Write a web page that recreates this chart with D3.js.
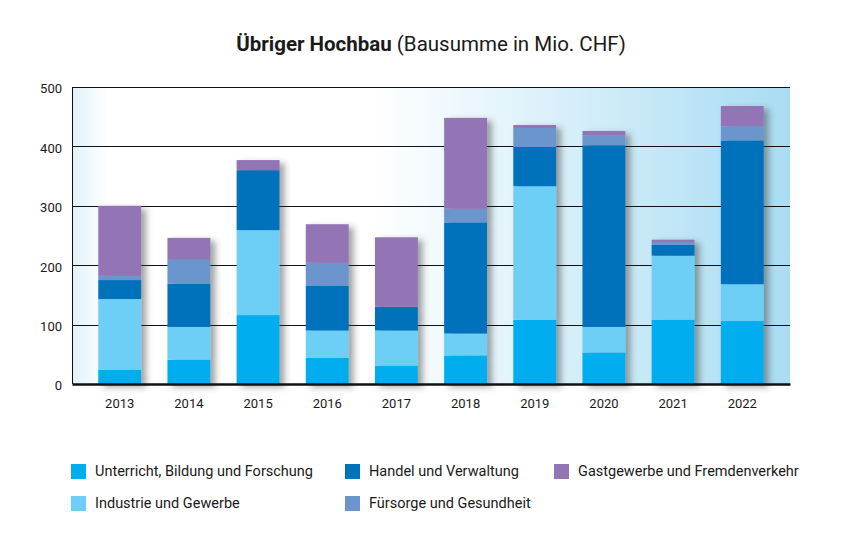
<!DOCTYPE html>
<head>
  <meta charset='utf-8'>
  <style>
    body { margin: 0; background: #fff; }
    svg text { font-family: Roboto, 'Liberation Sans', sans-serif; fill: #1a1a1a; }
    .grid line { stroke: #111; stroke-width: 1px; }
    .axis text { font-size: 13px; }
    .legend text { font-size: 14.5px; }
  </style>
</head>
<body>
<script src='https://d3js.org/d3.v7.min.js'></script>
<script>
  var
    W = 852,
    H = 559,
    margin = {top: 87, right: 62, bottom: 175, left: 72};

  // data (Mio. CHF)
  var years = ['2013', '2014', '2015', '2016', '2017', '2018', '2019', '2020', '2021', '2022'];
  var unterricht = [24, 41, 116, 44, 31, 48, 108, 53, 108, 106];
  var industrie  = [119, 55, 143, 46, 59, 37, 225, 43, 108, 62];
  var handel     = [32, 73, 101, 75, 40, 187, 66, 306, 18, 242];
  var fuersorge  = [7, 40, 0, 39, 0, 23, 32, 17, 5, 24];
  var gastgewerbe = [118, 37, 17, 65, 117, 153, 5, 7, 4, 34];
  var yTicks = [0, 100, 200, 300, 400, 500];

  var series = [
    {key: 'u', name: 'Unterricht, Bildung und Forschung', values: unterricht, color: '#00aeef'},
    {key: 'i', name: 'Industrie und Gewerbe', values: industrie, color: '#6dcff6'},
    {key: 'h', name: 'Handel und Verwaltung', values: handel, color: '#0072bc'},
    {key: 'f', name: 'Fürsorge und Gesundheit', values: fuersorge, color: '#6a95cd'},
    {key: 'g', name: 'Gastgewerbe und Fremdenverkehr', values: gastgewerbe, color: '#9375b5'}
  ];

  var rows = years.map(function(y, i) {
    var r = {year: y};
    series.forEach(function(s) { r[s.key] = s.values[i]; });
    return r;
  });

  var w = W - margin.left - margin.right,
      h = H - margin.top - margin.bottom;

  var x = d3.scaleBand().domain(years).range([0, w]).padding(0.38),
      y = d3.scaleLinear().domain([0, 500]).range([h, 0]);

  var stacked = d3.stack().keys(series.map(function(s) { return s.key; }))(rows);

  var svg = d3.select('body').append('svg')
      .attr('width', W)
      .attr('height', H);

  var defs = svg.append('defs');
  var grad = defs.append('linearGradient')
      .attr('id', 'bg')
      .attr('x1', '0%').attr('x2', '100%')
      .attr('y1', '0%').attr('y2', '0%');
  [['0%', '#e2f2fa'], ['5%', '#ffffff'], ['42%', '#ffffff'], ['100%', '#a9dcf3']].forEach(function(s) {
    grad.append('stop').attr('offset', s[0]).attr('stop-color', s[1]);
  });
  var shadow = defs.append('filter')
      .attr('id', 'shadow')
      .attr('x', '-20%').attr('y', '-10%')
      .attr('width', '160%').attr('height', '130%');
  shadow.append('feDropShadow')
      .attr('dx', 5).attr('dy', 3)
      .attr('stdDeviation', 3)
      .attr('flood-color', '#333')
      .attr('flood-opacity', 0.45);

  svg.append('text')
      .attr('x', 431)
      .attr('y', 51)
      .attr('text-anchor', 'middle')
      .style('font-size', '20.5px')
      .call(function(t) {
        t.append('tspan').style('font-weight', 'bold').text('Übriger Hochbau');
        t.append('tspan').text(' (Bausumme in Mio. CHF)');
      });

  var g = svg.append('g')
      .attr('transform', 'translate(' + margin.left + ',' + margin.top + ')');

  g.append('rect')
      .attr('width', w)
      .attr('height', h)
      .attr('fill', 'url(#bg)');

  g.append('g')
      .attr('class', 'grid')
      .selectAll('line')
      .data(yTicks.filter(function(d) { return d > 0; }))
      .enter().append('line')
      .attr('x1', 0)
      .attr('x2', w)
      .attr('y1', function(d) { return Math.round(y(d)) + 0.5; })
      .attr('y2', function(d) { return Math.round(y(d)) + 0.5; });

  var yAxis = g.append('g')
      .attr('class', 'axis')
      .call(d3.axisLeft(y).tickValues(yTicks).tickSize(0).tickPadding(10).tickFormat(d3.format('d')));
  yAxis.select('.domain').remove();
  yAxis.selectAll('text').attr('dy', '0.45em');

  var layers = g.append('g')
      .attr('filter', 'url(#shadow)')
      .selectAll('g')
      .data(stacked)
      .enter().append('g')
      .attr('fill', function(d, i) { return series[i].color; });

  layers.selectAll('rect')
      .data(function(d) { return d; })
      .enter().append('rect')
      .attr('x', function(d) { return x(d.data.year); })
      .attr('width', x.bandwidth())
      .attr('y', function(d) { return y(d[1]); })
      .attr('height', function(d) { return y(d[0]) - y(d[1]); });

  g.append('line')
      .attr('x1', 0.5).attr('x2', 0.5)
      .attr('y1', 0).attr('y2', h)
      .attr('stroke', '#111');

  var xAxis = g.append('g')
      .attr('class', 'axis')
      .attr('transform', 'translate(0,' + h + ')')
      .call(d3.axisBottom(x).tickSize(0).tickPadding(15));
  xAxis.select('.domain')
      .attr('stroke', '#111')
      .attr('stroke-width', 2.5);

  var legendPos = [[71, 471], [71, 503], [345, 471], [345, 503], [554, 471]];
  var legend = svg.append('g')
      .attr('class', 'legend')
      .selectAll('g')
      .data(series)
      .enter().append('g')
      .attr('transform', function(d, i) { return 'translate(' + legendPos[i][0] + ',' + legendPos[i][1] + ')'; });
  legend.append('rect')
      .attr('y', -7)
      .attr('width', 15)
      .attr('height', 15)
      .attr('fill', function(d) { return d.color; });
  legend.append('text')
      .attr('x', 24)
      .attr('dy', '0.35em')
      .text(function(d) { return d.name; });
</script>
</body>
